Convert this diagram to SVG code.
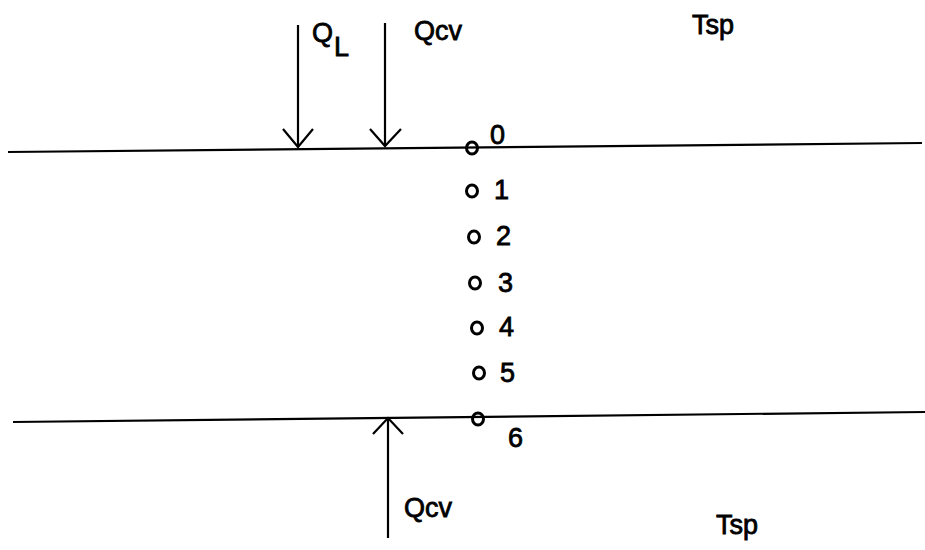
<svg xmlns="http://www.w3.org/2000/svg" width="925" height="550" viewBox="0 0 925 550">
<style>
.ln{stroke:#000;stroke-width:2.2;fill:none}
.t{font-family:"Liberation Sans",Arial,sans-serif;font-size:27px;fill:#000;stroke:#000;stroke-width:0.8}
.pt{stroke:#000;stroke-width:3;fill:none}
</style>
<rect width="925" height="550" fill="#fff"/>
<g id="boundaries">
<line class="ln" x1="8" y1="152" x2="922" y2="143"/>
<line class="ln" x1="13" y1="422" x2="925" y2="412"/>
</g>
<g id="connectors">
<line class="ln" x1="298" y1="25" x2="298" y2="147"/>
<polyline class="ln" points="283,129 298,147 313,129"/>
<line class="ln" x1="385" y1="23" x2="385" y2="146"/>
<polyline class="ln" points="370,129 385,146 401,129"/>
<line class="ln" x1="388" y1="538" x2="388" y2="418"/>
<polyline class="ln" points="373,434 388,418 403,434"/>
</g>
<g id="labels">
<text class="t" x="312" y="42">Q</text>
<text class="t" x="334" y="56" font-size="24">L</text>
<text class="t" x="414" y="40">Qcv</text>
<text class="t" x="692" y="34">Tsp</text>
<text class="t" x="404" y="517">Qcv</text>
<text class="t" x="716" y="534">Tsp</text>
</g>
<g id="node0"><ellipse class="pt" cx="472" cy="148" rx="5.5" ry="6"/><text class="t" x="490" y="144">0</text></g>
<g id="node1"><ellipse class="pt" cx="472" cy="191" rx="5.5" ry="6"/><text class="t" x="494" y="199">1</text></g>
<g id="node2"><ellipse class="pt" cx="474" cy="237" rx="5.5" ry="6"/><text class="t" x="496" y="245">2</text></g>
<g id="node3"><ellipse class="pt" cx="475" cy="283" rx="5.5" ry="6"/><text class="t" x="498" y="292">3</text></g>
<g id="node4"><ellipse class="pt" cx="477" cy="328" rx="5.5" ry="6"/><text class="t" x="499" y="336">4</text></g>
<g id="node5"><ellipse class="pt" cx="479" cy="373" rx="5.5" ry="6"/><text class="t" x="500" y="382">5</text></g>
<g id="node6"><ellipse class="pt" cx="478" cy="419" rx="5.5" ry="6"/><text class="t" x="508" y="447">6</text></g>
</svg>
